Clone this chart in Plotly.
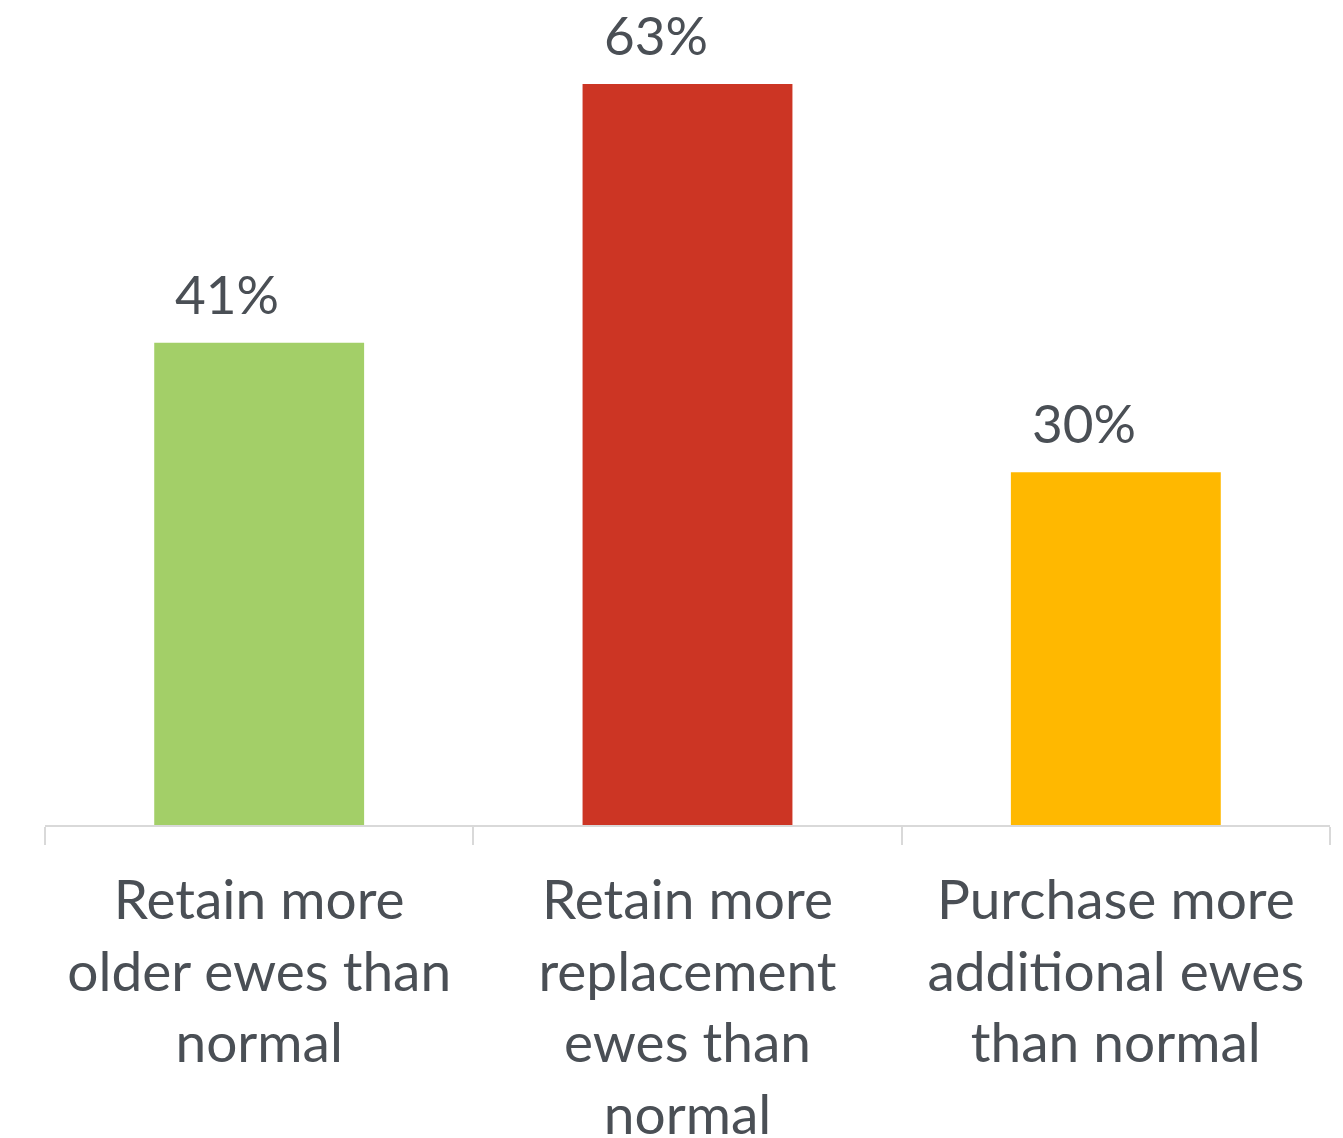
import plotly.graph_objects as go

categories = ["Retain more<br>older ewes than<br>normal",
              "Retain more<br>replacement<br>ewes than<br>normal",
              "Purchase more<br>additional ewes<br>than normal"]
values = [41, 63, 30]
labels = ["41%", "63%", "30%"]
colors = ["#A3CF68", "#CC3524", "#FFB800"]

TEXT = "#4A4F55"
FONT = "Lato"

fig = go.Figure()
fig.add_trace(go.Bar(x=categories, y=values, marker=dict(color=colors, line=dict(width=0)),
                     hoverinfo="skip"))
for c, v, t in zip(categories, values, labels):
    fig.add_annotation(x=c, y=v, text=t, showarrow=False, yanchor="bottom", yshift=16, xshift=-32,
                       font=dict(family=FONT, size=53, color=TEXT))

fig.update_layout(
    width=1335, height=1130,
    margin=dict(l=37, r=13, t=0, b=313, autoexpand=False),
    plot_bgcolor="white", paper_bgcolor="white",
    bargap=0.51, showlegend=False,
    font=dict(family=FONT, size=55, color=TEXT),
)
fig.update_xaxes(showline=True, linecolor="#D9D9D9", linewidth=2,
                 ticks="outside", tickson="boundaries", ticklen=18, tickcolor="#D9D9D9", tickwidth=2,
                 tickfont=dict(family=FONT, size=55, color=TEXT), tickangle=0,
                 ticklabelstandoff=26, automargin=False,
                 range=[-0.5, 2.5])
fig.update_yaxes(visible=False, range=[0, 817/11.76], showgrid=False, zeroline=False)

fig.write_html("out.html")
